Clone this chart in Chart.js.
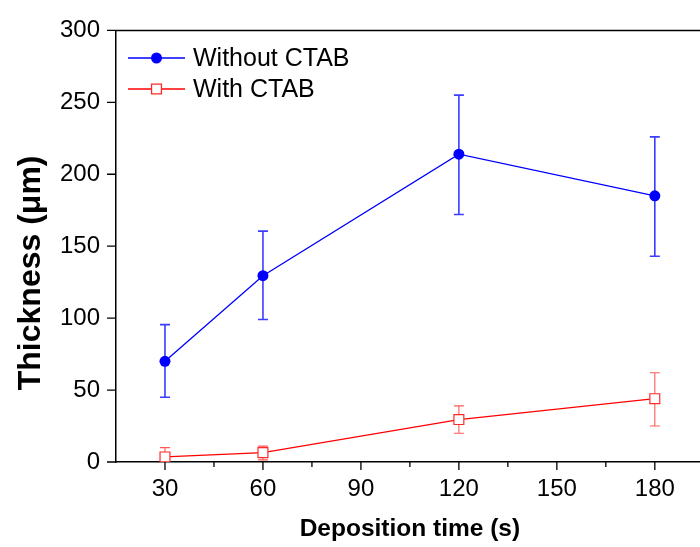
<!DOCTYPE html>
<html>
<head>
<meta charset="utf-8">
<script src="https://cdn.jsdelivr.net/npm/chart.js@4/dist/chart.umd.min.js"></script>
<style>
html, body { margin: 0; padding: 0; background: #fff; overflow: hidden; width: 700px; height: 547px; }
#wrap { width: 712px; height: 547px; }
</style>
</head>
<body>
<div id="wrap"><canvas id="thicknessChart" width="712" height="547"></canvas></div>
<script>
// data
const depositionTime = [30, 60, 120, 180];
const withoutCtab = [70, 129.5, 214, 185];
const withoutCtabLow = [45, 99, 172, 143];
const withoutCtabHigh = [95.5, 160.5, 255, 226];
const withCtab = [3.5, 6.5, 29.5, 44];
const withCtabLow = [-3, 1.5, 20, 25];
const withCtabHigh = [10, 11, 39, 62];
const xMajorTicks = [30, 60, 90, 120, 150, 180];
const xMinorTicks = [45, 75, 105, 135, 165];
const yTicks = [0, 50, 100, 150, 200, 250, 300];

Chart.defaults.font.family = 'Arial, "Liberation Sans", sans-serif';
Chart.defaults.color = '#000';

const ctx = document.getElementById('thicknessChart').getContext('2d');

function toPoints(values) {
    return depositionTime.map((t, i) => ({ x: t, y: values[i] }));
}

// Draws vertical error bars with caps, behind the markers
const errorBars = {
    id: 'errorBars',
    beforeDatasetsDraw(chart) {
        const c = chart.ctx;
        const area = chart.chartArea;
        const xs = chart.scales.x;
        const ys = chart.scales.y;
        c.save();
        c.beginPath();
        c.rect(area.left, area.top, area.right - area.left, area.bottom - area.top);
        c.clip();
        chart.data.datasets.forEach(ds => {
            c.strokeStyle = ds.errColor;
            c.lineWidth = ds.errWidth;
            ds.data.forEach((p, i) => {
                const x = xs.getPixelForValue(p.x);
                const yLo = ys.getPixelForValue(ds.errLow[i]);
                const yHi = ys.getPixelForValue(ds.errHigh[i]);
                c.beginPath();
                c.moveTo(x, yLo);
                c.lineTo(x, yHi);
                c.moveTo(x - 5, yLo);
                c.lineTo(x + 5, yLo);
                c.moveTo(x - 5, yHi);
                c.lineTo(x + 5, yHi);
                c.stroke();
            });
        });
        c.restore();
    }
};

// Tick marks and the top frame line
const axisMarks = {
    id: 'axisMarks',
    afterDraw(chart) {
        const c = chart.ctx;
        const area = chart.chartArea;
        const xs = chart.scales.x;
        const ys = chart.scales.y;
        c.save();
        c.strokeStyle = '#000';
        c.lineWidth = 1.5;
        c.beginPath();
        c.moveTo(area.left, area.top);
        c.lineTo(area.right, area.top);
        c.stroke();
        c.lineWidth = 1.3;
        c.beginPath();
        xMajorTicks.forEach(v => {
            const x = xs.getPixelForValue(v);
            c.moveTo(x, area.bottom);
            c.lineTo(x, area.bottom + 8);
        });
        xMinorTicks.forEach(v => {
            const x = xs.getPixelForValue(v);
            c.moveTo(x, area.bottom);
            c.lineTo(x, area.bottom + 5);
        });
        yTicks.forEach(v => {
            const y = ys.getPixelForValue(v);
            c.moveTo(area.left, y);
            c.lineTo(area.left - 9, y);
        });
        c.stroke();
        c.restore();
    }
};

// Legend drawn as line + marker + label, like the original
const lineLegend = {
    id: 'lineLegend',
    afterDraw(chart) {
        const c = chart.ctx;
        c.save();
        chart.data.datasets.forEach((ds, i) => {
            const y = 58 + i * 31;
            c.strokeStyle = ds.borderColor;
            c.lineWidth = ds.borderWidth;
            c.beginPath();
            c.moveTo(128, y);
            c.lineTo(185, y);
            c.stroke();
            c.fillStyle = ds.pointBackgroundColor;
            c.strokeStyle = ds.pointBorderColor;
            Chart.helpers.drawPoint(c, {
                pointStyle: ds.pointStyle,
                radius: ds.pointRadius,
                borderWidth: ds.pointBorderWidth,
                rotation: 0
            }, 156.5, y);
            c.fillStyle = '#000';
            c.font = '25px Arial, "Liberation Sans", sans-serif';
            c.textBaseline = 'middle';
            c.textAlign = 'left';
            c.fillText(ds.label, 193, y + 1);
        });
        c.restore();
    }
};

const chart = new Chart(ctx, {
    type: 'line',
    data: {
        datasets: [
            {
                label: 'Without CTAB',
                data: toPoints(withoutCtab),
                errLow: withoutCtabLow,
                errHigh: withoutCtabHigh,
                errColor: '#3c3cff',
                errWidth: 1.6,
                borderColor: '#0000ff',
                backgroundColor: '#0000ff',
                borderWidth: 1.3,
                pointStyle: 'circle',
                pointRadius: 5.5,
                pointBackgroundColor: '#0000ff',
                pointBorderColor: '#0000ff',
                pointBorderWidth: 0,
                tension: 0
            },
            {
                label: 'With CTAB',
                data: toPoints(withCtab),
                errLow: withCtabLow,
                errHigh: withCtabHigh,
                errColor: '#ff5a5a',
                errWidth: 1.1,
                borderColor: '#ff0000',
                backgroundColor: '#ffffff',
                borderWidth: 1.3,
                pointStyle: 'rect',
                pointRadius: 7,
                pointBackgroundColor: '#ffffff',
                pointBorderColor: '#ff2a2a',
                pointBorderWidth: 1.2,
                tension: 0
            }
        ]
    },
    options: {
        responsive: false,
        animation: false,
        devicePixelRatio: 1,
        layout: { padding: { top: 26, right: 4, left: 0, bottom: 0 } },
        plugins: {
            legend: { display: false },
            tooltip: { enabled: false }
        },
        scales: {
            x: {
                type: 'linear',
                min: 15,
                max: 195,
                afterBuildTicks: s => { s.ticks = xMajorTicks.map(v => ({ value: v })); },
                afterFit: s => { s.height = 85; },
                grid: { display: false, drawTicks: false },
                border: { display: true, color: '#000', width: 1.6 },
                ticks: { font: { size: 24 }, padding: 13, maxRotation: 0, autoSkip: false },
                title: {
                    display: true,
                    text: 'Deposition time (s)',
                    font: { size: 24.5, weight: 'bold' },
                    padding: { top: 0, bottom: 3 }
                }
            },
            y: {
                type: 'linear',
                min: 0,
                max: 300,
                afterBuildTicks: s => { s.ticks = yTicks.map(v => ({ value: v })); },
                afterFit: s => { s.width = 116; },
                grid: { display: false, drawTicks: false },
                border: { display: true, color: '#000', width: 1.5 },
                ticks: { font: { size: 24 }, padding: 16, autoSkip: false },
                title: {
                    display: true,
                    text: 'Thickness (\u03bcm)      ',
                    font: { size: 32, weight: 'bold' },
                    padding: { top: 12, bottom: 0 }
                }
            }
        }
    },
    plugins: [errorBars, axisMarks, lineLegend]
});
</script>
</body>
</html>
